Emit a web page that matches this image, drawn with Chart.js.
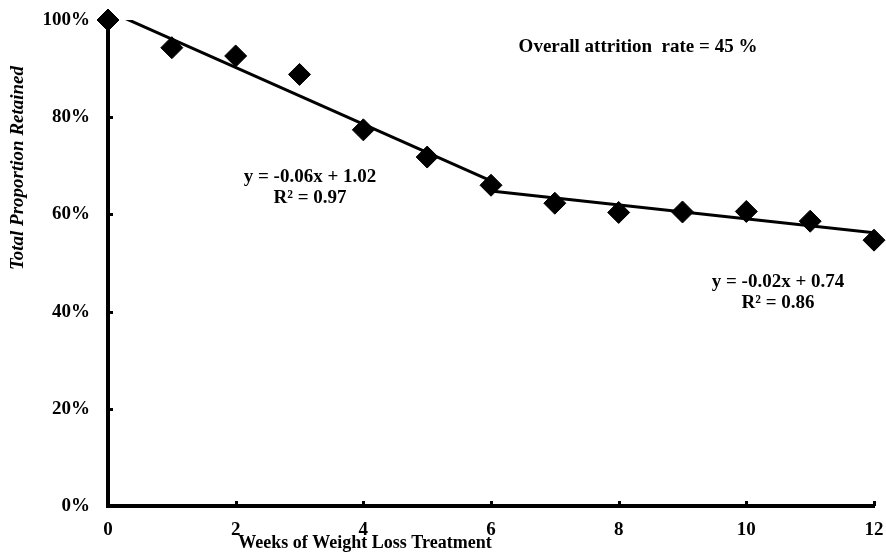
<!DOCTYPE html>
<html>
<head>
<meta charset="utf-8">
<script src="https://cdn.jsdelivr.net/npm/chart.js@4/dist/chart.umd.min.js"></script>
<style>
  html, body { margin: 0; padding: 0; background: #fff; }
  #wrap { width: 886px; height: 552px; }
</style>
</head>
<body>
<div id="wrap"><canvas id="chartCanvas" width="886" height="552"></canvas></div>
<script>
"use strict";

// weeks of treatment and proportion retained (%)
const weeks = [0, 1, 2, 3, 4, 5, 6, 7, 8, 9, 10, 11, 12];
const retained = [100, 94.3, 92.6, 88.8, 77.4, 71.8, 66.0, 62.3, 60.4, 60.5, 60.6, 58.6, 54.7];

// fitted trend lines, end points
const earlyTrendX = [0, 6];
const earlyTrendY = [101.9, 66.9];
const lateTrendX = [6, 12];
const lateTrendY = [64.8, 56.2];

const yTicks = [0, 20, 40, 60, 80, 100];
const xTicks = [0, 2, 4, 6, 8, 10, 12];

const serif = "'Liberation Serif', 'Times New Roman', serif";

function pairs(xs, ys) {
    return xs.map((x, i) => ({ x: x, y: ys[i] }));
}

// small inward tick marks + free text, like the Excel original
const extras = {
    id: 'extras',
    afterDraw(chart) {
        const ctx = chart.ctx;
        const xs = chart.scales.x;
        const ys = chart.scales.y;
        const area = chart.chartArea;
        ctx.save();
        ctx.fillStyle = '#000';
        yTicks.forEach(v => {
            const py = Math.round(ys.getPixelForValue(v));
            ctx.fillRect(area.left, py - 1, 5, 3);
        });
        xTicks.forEach(v => {
            const px = Math.round(xs.getPixelForValue(v));
            ctx.fillRect(px - 1, area.bottom - 5, 3, 5);
        });

        ctx.textAlign = 'center';
        ctx.textBaseline = 'middle';
        ctx.font = 'bold 19px ' + serif;
        ctx.fillText('Overall attrition  rate = 45 %', 638, 47);
        ctx.fillText('y = -0.06x + 1.02', 310, 177);
        ctx.fillText('R² = 0.97', 310, 198);
        ctx.fillText('y = -0.02x + 0.74', 778, 282);
        ctx.fillText('R² = 0.86', 778, 303);

        ctx.font = 'bold 18px ' + serif;
        ctx.fillText('Weeks of Weight Loss Treatment', 365, 543);

        ctx.translate(18, 168);
        ctx.rotate(-Math.PI / 2);
        ctx.font = 'italic bold 19px ' + serif;
        ctx.fillText('Total Proportion Retained', 0, 0);
        ctx.restore();
    }
};

const ctx = document.getElementById('chartCanvas');

new Chart(ctx, {
    type: 'scatter',
    data: {
        datasets: [
            {
                label: 'Retained',
                data: pairs(weeks, retained),
                pointStyle: 'rectRot',
                pointRadius: 11,
                backgroundColor: '#000',
                borderColor: '#000',
                borderWidth: 1,
                showLine: false,
                clip: false,
                order: 0
            },
            {
                label: 'Weeks 0-6 fit',
                data: pairs(earlyTrendX, earlyTrendY),
                showLine: true,
                borderColor: '#000',
                borderWidth: 3,
                pointRadius: 0,
                order: 1
            },
            {
                label: 'Weeks 6-12 fit',
                data: pairs(lateTrendX, lateTrendY),
                showLine: true,
                borderColor: '#000',
                borderWidth: 3,
                pointRadius: 0,
                order: 1
            }
        ]
    },
    options: {
        responsive: false,
        animation: false,
        layout: { padding: { top: 20, right: 11, left: 0, bottom: 0 } },
        plugins: {
            legend: { display: false },
            tooltip: { enabled: false }
        },
        scales: {
            x: {
                type: 'linear',
                min: 0,
                max: 12,
                afterFit(scale) {
                    scale.height = 46;
                    scale.paddingLeft = 0;
                    scale.paddingRight = 0;
                },
                grid: { display: true, drawOnChartArea: false, drawTicks: false },
                border: { display: true, color: '#000', width: 4 },
                ticks: {
                    stepSize: 2,
                    padding: 13,
                    color: '#000',
                    font: { family: serif, size: 19, weight: 'bold' }
                }
            },
            y: {
                min: 0,
                max: 100,
                afterFit(scale) {
                    scale.width = 108;
                    scale.paddingTop = 0;
                    scale.paddingBottom = 0;
                },
                grid: { display: true, drawOnChartArea: false, drawTicks: false },
                border: { display: true, color: '#000', width: 4 },
                ticks: {
                    stepSize: 20,
                    padding: 18,
                    color: '#000',
                    font: { family: serif, size: 19, weight: 'bold' },
                    callback: v => v + '%'
                }
            }
        }
    },
    plugins: [extras]
});
</script>
</body>
</html>
